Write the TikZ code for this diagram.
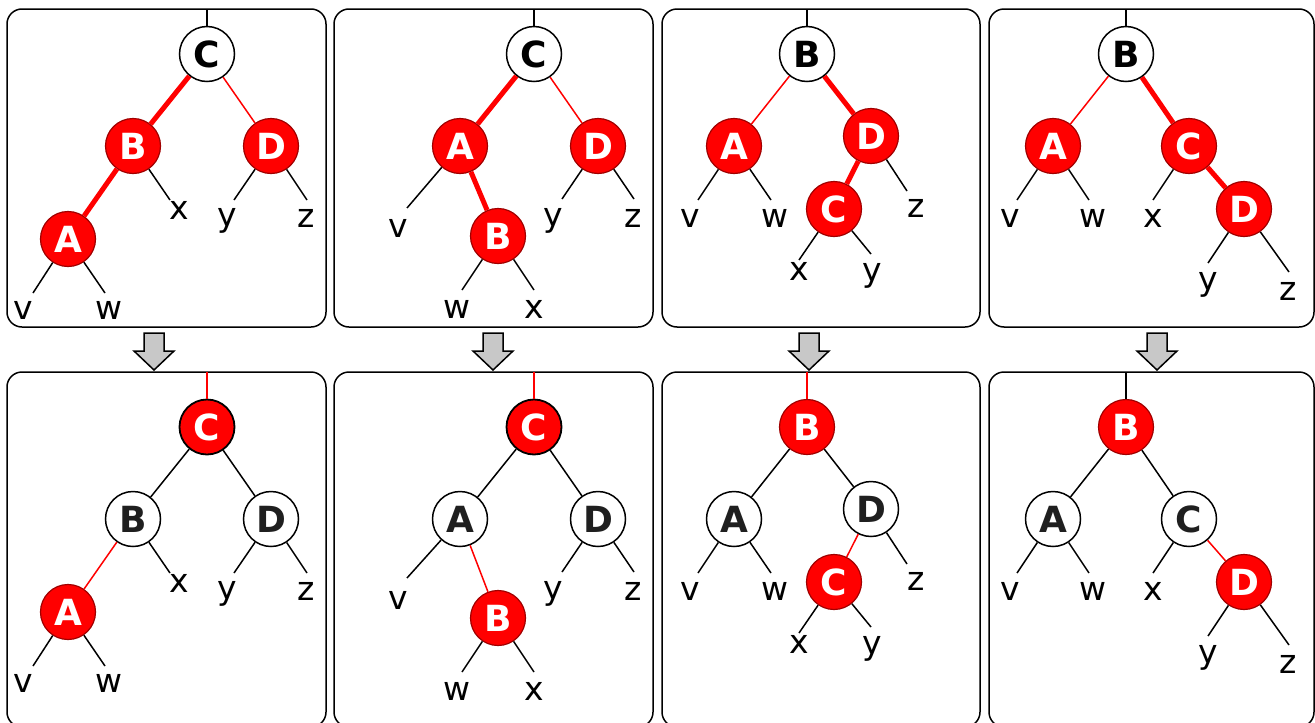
\documentclass[tikz,border=0pt]{standalone}
\usepackage{fontspec}
\setmainfont{DejaVu Sans}
\definecolor{rbord}{HTML}{A00000}
\definecolor{arrgray}{HTML}{C8C8C8}
\newcommand\myleaf[6]{%
  \coordinate (#1) at (#2);
  \node[leaflbl] (#1L) at (#3) {#5};
  \draw[edgeb] (#4) -- (#1);}
\begin{document}
\begin{tikzpicture}[x=1pt,y=-1pt,
  nodefont/.style={font=\fontsize{36}{42}\selectfont\bfseries},
  rn/.style={circle,fill=red,draw=rbord,line width=1.2pt,minimum size=55pt,inner sep=0pt,text=white,nodefont},
  rnb/.style={rn,draw=black,line width=1.8pt},
  bn/.style={circle,fill=white,draw=black,line width=1.5pt,minimum size=55pt,inner sep=0pt,text=black,nodefont},
  bnb/.style={bn,text=black!88},
  leaflbl/.style={font=\fontsize{33}{39}\selectfont,anchor=base,inner sep=0pt},
  edgeb/.style={draw=black,line width=1.5pt},
  edger/.style={draw=red,line width=1.5pt},
  edgeR/.style={draw=red,line width=5pt},
  panel/.style={draw=black,line width=1.5pt,rounded corners=15pt},
  blockarrow/.style={fill=arrgray,draw=black,line width=1.5pt,line join=miter}
]
\useasboundingbox (0,0) rectangle (1315,723);
% panels
\draw[panel] (7,9) rectangle (326,327);
\draw[panel] (334,9) rectangle (653,327);
\draw[panel] (662,9) rectangle (980,327);
\draw[panel] (989,9) rectangle (1314,327);
\draw[panel] (7,372) rectangle (326,727);
\draw[panel] (334,372) rectangle (653,727);
\draw[panel] (662,372) rectangle (980,727);
\draw[panel] (989,372) rectangle (1314,727);
% arrows
\foreach \ax in {154,493,809,1157}{
  \draw[blockarrow] (\ax-10,333) -- (\ax+10,333) -- (\ax+10,351) -- (\ax+20,351) -- (\ax,370) -- (\ax-20,351) -- (\ax-10,351) -- cycle;
}
%%%%%%%% Panel 1 top
\coordinate (r1t) at (207,9);
\node[bn] (C1t) at (207,54) {C};
\node[rn] (B1t) at (133,146) {B};
\node[rn] (D1t) at (271,146) {D};
\node[rn] (A1t) at (68,239) {A};
\draw[edgeb] (r1t) -- (C1t);
\draw[edgeR] (C1t) -- (B1t);
\draw[edger] (C1t) -- (D1t);
\draw[edgeR] (B1t) -- (A1t);
\myleaf{v1t}{33,293}{23,319}{A1t}{v}{}
\myleaf{w1t}{105,293}{109,319}{A1t}{w}{}
\myleaf{x1t}{170,200}{179,219}{B1t}{x}{}
\myleaf{y1t}{234,200}{227,226}{D1t}{y}{}
\myleaf{z1t}{307,200}{306,227}{D1t}{z}{}
%%%%%%%% Panel 1 bottom
\coordinate (r1b) at (207,372);
\node[rnb] (C1b) at (207,427) {C};
\node[bnb] (B1b) at (133,519) {B};
\node[bnb] (D1b) at (271,519) {D};
\node[rn] (A1b) at (68,612) {A};
\draw[edger] (r1b) -- (C1b);
\draw[edgeb] (C1b) -- (B1b);
\draw[edgeb] (C1b) -- (D1b);
\draw[edger] (B1b) -- (A1b);
\myleaf{v1b}{33,666}{23,692}{A1b}{v}{}
\myleaf{w1b}{105,666}{109,692}{A1b}{w}{}
\myleaf{x1b}{170,573}{179,592}{B1b}{x}{}
\myleaf{y1b}{234,573}{227,599}{D1b}{y}{}
\myleaf{z1b}{307,573}{306,600}{D1b}{z}{}
%%%%%%%% Panel 2 top
\coordinate (r2t) at (534,9);
\node[bn] (C2t) at (534,54) {C};
\node[rn] (A2t) at (460,146) {A};
\node[rn] (D2t) at (598,146) {D};
\node[rn] (B2t) at (498,236) {B};
\draw[edgeb] (r2t) -- (C2t);
\draw[edgeR] (C2t) -- (A2t);
\draw[edger] (C2t) -- (D2t);
\draw[edgeR] (A2t) -- (B2t);
\myleaf{v2t}{407,208}{398,237}{A2t}{v}{}
\myleaf{w2t}{462,290}{457,318}{B2t}{w}{}
\myleaf{x2t}{534,290}{534,318}{B2t}{x}{}
\myleaf{y2t}{562,199}{553,226}{D2t}{y}{}
\myleaf{z2t}{634,199}{633,227}{D2t}{z}{}
%%%%%%%% Panel 2 bottom
\coordinate (r2b) at (534,372);
\node[rnb] (C2b) at (534,427) {C};
\node[bnb] (A2b) at (460,519) {A};
\node[bnb] (D2b) at (598,519) {D};
\node[rn] (B2b) at (498,618) {B};
\draw[edger] (r2b) -- (C2b);
\draw[edgeb] (C2b) -- (A2b);
\draw[edgeb] (C2b) -- (D2b);
\draw[edger] (A2b) -- (B2b);
\myleaf{v2b}{407,578}{398,609}{A2b}{v}{}
\myleaf{w2b}{462,672}{457,700}{B2b}{w}{}
\myleaf{x2b}{534,672}{534,700}{B2b}{x}{}
\myleaf{y2b}{562,572}{553,599}{D2b}{y}{}
\myleaf{z2b}{634,572}{633,600}{D2b}{z}{}
%%%%%%%% Panel 3 top
\coordinate (r3t) at (807,9);
\node[bn] (B3t) at (807,54) {B};
\node[rn] (A3t) at (734,146) {A};
\node[rn] (D3t) at (871,136) {D};
\node[rn] (C3t) at (834,209) {C};
\draw[edgeb] (r3t) -- (B3t);
\draw[edger] (B3t) -- (A3t);
\draw[edgeR] (B3t) -- (D3t);
\draw[edgeR] (D3t) -- (C3t);
\myleaf{v3t}{698,200}{690,227}{A3t}{v}{}
\myleaf{w3t}{771,200}{775,227}{A3t}{w}{}
\myleaf{z3t}{907,191}{916,217}{D3t}{z}{}
\myleaf{x3t}{799,260}{799,280}{C3t}{x}{}
\myleaf{y3t}{871,254}{872,281}{C3t}{y}{}
%%%%%%%% Panel 3 bottom
\coordinate (r3b) at (807,372);
\node[rn] (B3b) at (807,427) {B};
\node[bnb] (A3b) at (734,519) {A};
\node[bnb] (D3b) at (871,509) {D};
\node[rn] (C3b) at (834,582) {C};
\draw[edger] (r3b) -- (B3b);
\draw[edgeb] (B3b) -- (A3b);
\draw[edgeb] (B3b) -- (D3b);
\draw[edger] (D3b) -- (C3b);
\myleaf{v3b}{698,573}{690,600}{A3b}{v}{}
\myleaf{w3b}{771,573}{775,600}{A3b}{w}{}
\myleaf{z3b}{907,564}{916,590}{D3b}{z}{}
\myleaf{x3b}{799,633}{799,653}{C3b}{x}{}
\myleaf{y3b}{871,627}{872,654}{C3b}{y}{}
%%%%%%%% Panel 4 top
\coordinate (r4t) at (1126,9);
\node[bn] (B4t) at (1126,54) {B};
\node[rn] (A4t) at (1053,146) {A};
\node[rn] (C4t) at (1189,146) {C};
\node[rn] (D4t) at (1244,209) {D};
\draw[edgeb] (r4t) -- (B4t);
\draw[edger] (B4t) -- (A4t);
\draw[edgeR] (B4t) -- (C4t);
\draw[edgeR] (C4t) -- (D4t);
\myleaf{v4t}{1017,200}{1010,227}{A4t}{v}{}
\myleaf{w4t}{1089,200}{1093,227}{A4t}{w}{}
\myleaf{x4t}{1153,200}{1153,227}{C4t}{x}{}
\myleaf{y4t}{1208,263}{1208,290}{D4t}{y}{}
\myleaf{z4t}{1289,272}{1288,300}{D4t}{z}{}
%%%%%%%% Panel 4 bottom
\coordinate (r4b) at (1126,372);
\node[rn] (B4b) at (1126,427) {B};
\node[bnb] (A4b) at (1053,519) {A};
\node[bnb] (C4b) at (1189,519) {C};
\node[rn] (D4b) at (1244,582) {D};
\draw[edgeb] (r4b) -- (B4b);
\draw[edgeb] (B4b) -- (A4b);
\draw[edgeb] (B4b) -- (C4b);
\draw[edger] (C4b) -- (D4b);
\myleaf{v4b}{1017,573}{1010,600}{A4b}{v}{}
\myleaf{w4b}{1089,573}{1093,600}{A4b}{w}{}
\myleaf{x4b}{1153,573}{1153,600}{C4b}{x}{}
\myleaf{y4b}{1208,636}{1208,663}{D4b}{y}{}
\myleaf{z4b}{1289,645}{1288,673}{D4b}{z}{}
\end{tikzpicture}
\end{document}
